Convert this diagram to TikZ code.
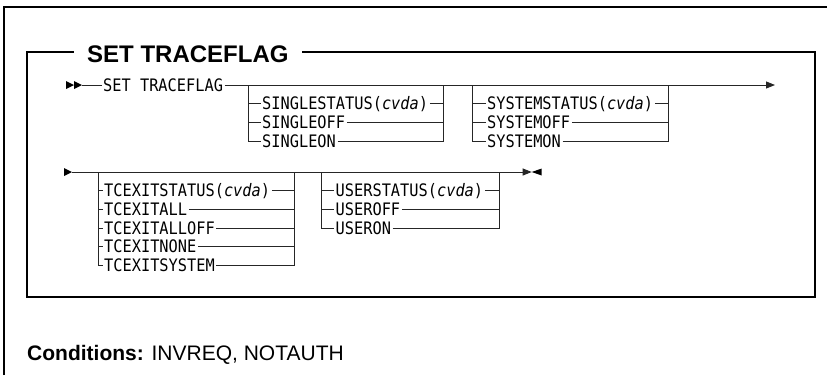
\documentclass[tikz,border=0pt]{standalone}
\usepackage{fontspec}
\setmainfont{Liberation Sans}
\newfontfamily\railfont{DejaVu Sans Mono}[ItalicFont={DejaVu Sans Mono Oblique}, FakeStretch=0.89]
\usetikzlibrary{positioning,arrows.meta,calc}

\tikzset{
  rail/.style={line width=0.9pt, draw=black!85},
  opt/.style={font=\railfont\fontsize{17.2}{19}\selectfont, inner xsep=1.5pt, inner ysep=0pt,
              text height=12.5pt, text depth=0pt, anchor=west},
  frame/.style={line width=1.2pt},
}
\newcommand{\cvda}{(\textit{cvda})}

\begin{document}
\begin{tikzpicture}[x=1pt, y=-1pt, >={Triangle[length=9pt,width=7pt]}]
    \useasboundingbox (0,0) rectangle (827,375);
    \draw[frame] (4,375) -- (4,7) -- (827,7);
    \draw[frame] (27,52) rectangle (815,297);
    \node[font=\fontsize{24}{28}\selectfont\bfseries, fill=white, inner xsep=13pt, inner ysep=0pt,
          text height=17pt, text depth=0pt, anchor=west] (title) at (74,53.5) {SET TRACEFLAG};

    % first line
    \fill (66,81) -- (74,85) -- (66,89) -- cycle;
    \fill (74,81) -- (82,85) -- (74,89) -- cycle;
    \coordinate (s1) at (82,85);
    \coordinate (e1) at (775,85);
    \node[opt] (set) at (101.5,85) {SET TRACEFLAG};
    \draw[rail] (s1) -- (set);
    \draw[rail,->] (set) -- (e1);

    \coordinate (g1l) at (248,85);
    \coordinate (g1r) at (443,85);
    \foreach \n/\t/\yy in {sst/{SINGLESTATUS\cvda}/103.7, soff/SINGLEOFF/122.3, son/SINGLEON/141}
      {\node[opt] (\n) at (260.5,\yy) {\t};
       \draw[rail] (g1l |- \n.west) -- (\n.west) (\n.east) -- (g1r |- \n.east);}
    \draw[rail] (g1l) |- (son.west);
    \draw[rail] (g1r) |- (son.east);

    \coordinate (g2l) at (472,85);
    \coordinate (g2r) at (668,85);
    \foreach \n/\t/\yy in {yst/{SYSTEMSTATUS\cvda}/103.7, yoff/SYSTEMOFF/122.3, yon/SYSTEMON/141}
      {\node[opt] (\n) at (485.5,\yy) {\t};
       \draw[rail] (g2l |- \n.west) -- (\n.west) (\n.east) -- (g2r |- \n.east);}
    \draw[rail] (g2l) |- (yon.west);
    \draw[rail] (g2r) |- (yon.east);

    % second line
    \fill (64,168) -- (72,172) -- (64,176) -- cycle;
    \coordinate (s2) at (72,172);
    \coordinate (e2) at (531.7,172);
    \draw[rail,->] (s2) -- (e2);
    \fill (541.7,168.5) -- (531.7,172) -- (541.7,175.5) -- cycle;

    \coordinate (gal) at (98,172);
    \coordinate (gar) at (294,172);
    \foreach \n/\t/\yy in {tst/{TCEXITSTATUS\cvda}/190.7, tall/TCEXITALL/209.3, talloff/TCEXITALLOFF/228,
                           tnone/TCEXITNONE/246.7, tsys/TCEXITSYSTEM/265.3}
      {\node[opt] (\n) at (102.5,\yy) {\t};
       \draw[rail] (gal |- \n.west) -- (\n.west) (\n.east) -- (gar |- \n.east);}
    \draw[rail] (gal) |- (tsys.west);
    \draw[rail] (gar) |- (tsys.east);

    \coordinate (gbl) at (321,172);
    \coordinate (gbr) at (499,172);
    \foreach \n/\t/\yy in {ust/{USERSTATUS\cvda}/190.7, uoff/USEROFF/209.3, uon/USERON/228}
      {\node[opt] (\n) at (334,\yy) {\t};
       \draw[rail] (gbl |- \n.west) -- (\n.west) (\n.east) -- (gbr |- \n.east);}
    \draw[rail] (gbl) |- (uon.west);
    \draw[rail] (gbr) |- (uon.east);

    \node[anchor=base west, inner sep=0pt, font=\fontsize{21}{24}\selectfont] (cond) at (27,360)
         {\textbf{Conditions:} INVREQ, NOTAUTH};
\end{tikzpicture}
\end{document}
